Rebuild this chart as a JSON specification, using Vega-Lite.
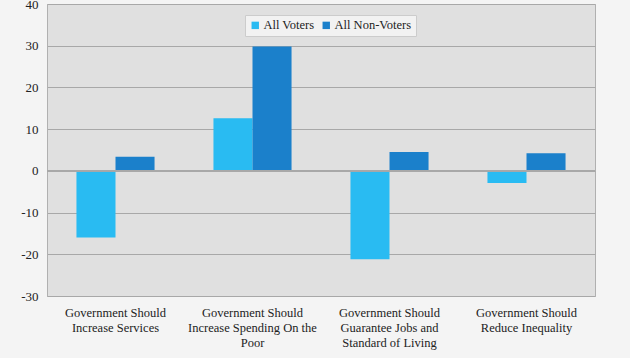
{
  "$schema": "https://vega.github.io/schema/vega-lite/v6.json",
  "width": 548,
  "height": 292,
  "padding": {"left": 47, "top": 4, "right": 35, "bottom": 62},
  "autosize": {"type": "none"},
  "background": "#f4f4f4",
  "config": {
    "font": "Liberation Serif",
    "view": {"fill": "#e0e0e0", "stroke": "#b0b0b0", "strokeWidth": 1}
  },
  "data": {
    "values": [
      {"category": "Government Should Increase Services", "group": "All Voters", "value": -16.0},
      {"category": "Government Should Increase Services", "group": "All Non-Voters", "value": 3.4},
      {"category": "Government Should Increase Spending On the Poor", "group": "All Voters", "value": 12.6},
      {"category": "Government Should Increase Spending On the Poor", "group": "All Non-Voters", "value": 29.8},
      {"category": "Government Should Guarantee Jobs and Standard of Living", "group": "All Voters", "value": -21.2},
      {"category": "Government Should Guarantee Jobs and Standard of Living", "group": "All Non-Voters", "value": 4.5},
      {"category": "Government Should Reduce Inequality", "group": "All Voters", "value": -2.9},
      {"category": "Government Should Reduce Inequality", "group": "All Non-Voters", "value": 4.2}
    ]
  },
  "layer": [
    {
      "mark": {"type": "bar"},
      "encoding": {
        "x": {
          "field": "category",
          "type": "nominal",
          "sort": null,
          "scale": {"paddingInner": 0.43, "paddingOuter": 0.215},
          "axis": {
            "title": null,
            "labelAngle": 0,
            "labelFontSize": 12.5,
            "labelColor": "#222",
            "labelLineHeight": 15,
            "labelPadding": 10,
            "ticks": false,
            "domain": false,
            "labelLimit": 200,
            "labelExpr": "datum.label == 'Government Should Increase Services' ? ['Government Should', 'Increase Services'] : datum.label == 'Government Should Increase Spending On the Poor' ? ['Government Should', 'Increase Spending On the', 'Poor'] : datum.label == 'Government Should Guarantee Jobs and Standard of Living' ? ['Government Should', 'Guarantee Jobs and', 'Standard of Living'] : ['Government Should', 'Reduce Inequality']"
          }
        },
        "xOffset": {"field": "group", "type": "nominal", "sort": ["All Voters", "All Non-Voters"]},
        "y": {
          "field": "value",
          "type": "quantitative",
          "scale": {"domain": [-30, 40], "nice": false},
          "axis": {
            "title": null,
            "values": [-30, -20, -10, 0, 10, 20, 30, 40],
            "labelExpr": "toString(datum.value)",
            "labelFontSize": 13,
            "labelColor": "#222",
            "ticks": false,
            "labelPadding": 9,
            "domainColor": "#b0b0b0",
            "gridColor": "#a8a8a8",
            "gridOpacity": 1
          }
        },
        "color": {
          "field": "group",
          "type": "nominal",
          "sort": ["All Voters", "All Non-Voters"],
          "scale": {"domain": ["All Voters", "All Non-Voters"], "range": ["#29bbf2", "#1b80cb"]},
          "legend": {
            "title": null,
            "orient": "none",
            "direction": "horizontal",
            "legendX": 198,
            "legendY": 11,
            "symbolType": "square",
            "symbolSize": 55,
            "symbolOffset": 0,
            "labelFontSize": 12.5,
            "labelColor": "#222",
            "columnPadding": 5,
            "labelOffset": 2,
            "padding": 4,
            "fillColor": "#f2f2f2",
            "strokeColor": "#cccccc"
          }
        }
      }
    },
    {
      "mark": {"type": "rule", "color": "#a8a8a8", "strokeWidth": 1},
      "encoding": {"y": {"datum": 0}}
    }
  ]
}
